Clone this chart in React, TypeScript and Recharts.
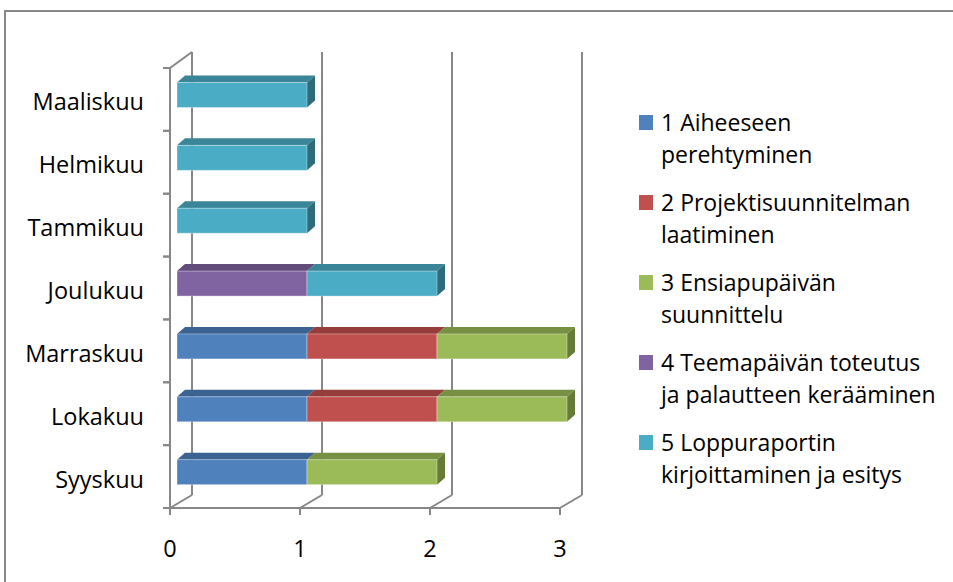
import { BarChart, Bar, XAxis, YAxis, CartesianGrid } from "recharts";

// months, bottom to top of the chart
const MONTHS = [
  "Syyskuu",
  "Lokakuu",
  "Marraskuu",
  "Joulukuu",
  "Tammikuu",
  "Helmikuu",
  "Maaliskuu",
];

// one value per month for each project phase
const PHASE1 = [1, 1, 1, 0, 0, 0, 0];
const PHASE2 = [0, 1, 1, 0, 0, 0, 0];
const PHASE3 = [1, 1, 1, 0, 0, 0, 0];
const PHASE4 = [0, 0, 0, 1, 0, 0, 0];
const PHASE5 = [0, 0, 0, 1, 1, 1, 1];

const X_TICKS = [0, 1, 2, 3];

const SERIES = [
  { key: "p1", name: "1 Aiheeseen\nperehtyminen", values: PHASE1, front: "#4F81BD", top: "#3C6291", side: "#2F4E75" },
  { key: "p2", name: "2 Projektisuunnitelman\nlaatiminen", values: PHASE2, front: "#C0504D", top: "#953D3B", side: "#78302E" },
  { key: "p3", name: "3 Ensiapupäivän\nsuunnittelu", values: PHASE3, front: "#9BBB59", top: "#779043", side: "#667C36" },
  { key: "p4", name: "4 Teemapäivän toteutus\nja palautteen kerääminen", values: PHASE4, front: "#8064A2", top: "#614C7B", side: "#4F3E64" },
  { key: "p5", name: "5 Loppuraportin\nkirjoittaminen ja esitys", values: PHASE5, front: "#4BACC6", top: "#3A8597", side: "#2F6C7B" },
];

const data = MONTHS.map((month, i) => {
  const row: any = { month };
  SERIES.forEach((s) => {
    row[s.key] = s.values[i];
  });
  return row;
});

const FONT = "'Open Sans', sans-serif";
const LINE = "#878787";

// fake 3d: wall depth and bar depth
const WALL_DX = 22;
const WALL_TOP_DY = 16;
const WALL_BOTTOM_DY = 13;
const BAR_SHIFT_X = 7;
const BAR_SHIFT_Y = 4.5;
const BAR_DX = 8;
const BAR_DY = 7;

const makeShape = (idx: number) => (props: any) => {
  const { x, y, width, height, payload } = props;
  if (!width || width <= 0) return <g />;
  const s = SERIES[idx];
  const fx = x + BAR_SHIFT_X;
  const fy = y - BAR_SHIFT_Y;
  const isEnd = SERIES.slice(idx + 1).every((n) => !payload[n.key]);
  return (
    <g>
      <polygon
        points={`${fx},${fy} ${fx + BAR_DX},${fy - BAR_DY} ${fx + width + BAR_DX},${fy - BAR_DY} ${fx + width},${fy}`}
        fill={s.top}
      />
      {isEnd && (
        <polygon
          points={`${fx + width},${fy} ${fx + width + BAR_DX},${fy - BAR_DY} ${fx + width + BAR_DX},${fy + height - BAR_DY} ${fx + width},${fy + height}`}
          fill={s.side}
        />
      )}
      <rect x={fx} y={fy} width={width} height={height} fill={s.front} stroke="rgba(255,255,255,0.35)" strokeWidth={1} />
    </g>
  );
};

// back wall lines + floor diagonals
const wallLine = (props: any) => {
  const { x1, y1, x2, y2, index } = props;
  const bx = x1 + WALL_DX;
  return (
    <g key={`wall-${index}-${x1}`} stroke={LINE} strokeWidth={2} fill="none">
      <line x1={bx} y1={y1 - WALL_TOP_DY} x2={bx} y2={y2 - WALL_BOTTOM_DY} />
      <line x1={x2} y1={y2} x2={bx} y2={y2 - WALL_BOTTOM_DY} />
      {index === 0 && <line x1={x1} y1={y1} x2={bx} y2={y1 - WALL_TOP_DY} />}
    </g>
  );
};

const MonthTick = (props: any) => {
  const { x, y, payload } = props;
  const half = payload && payload.offset ? payload.offset : 31.4;
  return (
    <g>
      <line x1={x - 7} y1={y - half} x2={x} y2={y - half} stroke={LINE} strokeWidth={2} />
      <line x1={x - 7} y1={y + half} x2={x} y2={y + half} stroke={LINE} strokeWidth={2} />
      <text x={x - 26} y={y + 11} textAnchor="end" fill="#000" fontSize={23.5} fontFamily={FONT}>
        {payload.value}
      </text>
    </g>
  );
};

const LegendBox = () => (
  <div style={{ position: "absolute", left: 639, top: 106, fontFamily: FONT, fontSize: 23, color: "#000" }}>
    {SERIES.map((s) => (
      <div key={s.key} style={{ display: "flex", alignItems: "flex-start", marginBottom: 16 }}>
        <div style={{ width: 14, height: 15, background: s.front, marginTop: 9, marginRight: 8, flexShrink: 0 }} />
        <div style={{ lineHeight: "32px", whiteSpace: "nowrap" }}>
          {s.name.split("\n").map((t, i) => (
            <div key={i}>{t}</div>
          ))}
        </div>
      </div>
    ))}
  </div>
);

export default function App() {
  return (
    <div style={{ position: "absolute", left: 0, top: 0, width: 953, height: 582, background: "#fff", overflow: "hidden" }}>
      <div
        style={{
          position: "absolute",
          left: 4,
          top: 10,
          width: 960,
          height: 600,
          borderLeft: `2px solid ${LINE}`,
          borderTop: `2px solid ${LINE}`,
        }}
      />
      <div style={{ position: "absolute", left: 0, top: 0 }}>
        <BarChart
          width={953}
          height={582}
          data={data}
          layout="vertical"
          margin={{ top: 68, right: 393, bottom: 34, left: 10 }}
        >
          <CartesianGrid horizontal={false} vertical={wallLine} />
          <XAxis
            type="number"
            domain={[0, 3]}
            ticks={X_TICKS}
            height={40}
            axisLine={{ stroke: LINE, strokeWidth: 2 }}
            tickLine={{ stroke: LINE, strokeWidth: 2 }}
            tickSize={7}
            tickMargin={25}
            tick={{ fill: "#000", fontSize: 23.5, fontFamily: FONT }}
          />
          <YAxis
            type="category"
            dataKey="month"
            reversed
            width={160}
            axisLine={{ stroke: LINE, strokeWidth: 2 }}
            tickLine={false}
            tickSize={0}
            tickMargin={0}
            tick={<MonthTick />}
            interval={0}
          />
          {SERIES.map((s, i) => (
            <Bar
              key={s.key}
              dataKey={s.key}
              name={s.name}
              stackId="a"
              barSize={25}
              fill={s.front}
              shape={makeShape(i)}
              isAnimationActive={false}
            />
          ))}
        </BarChart>
      </div>
      <LegendBox />
    </div>
  );
}
